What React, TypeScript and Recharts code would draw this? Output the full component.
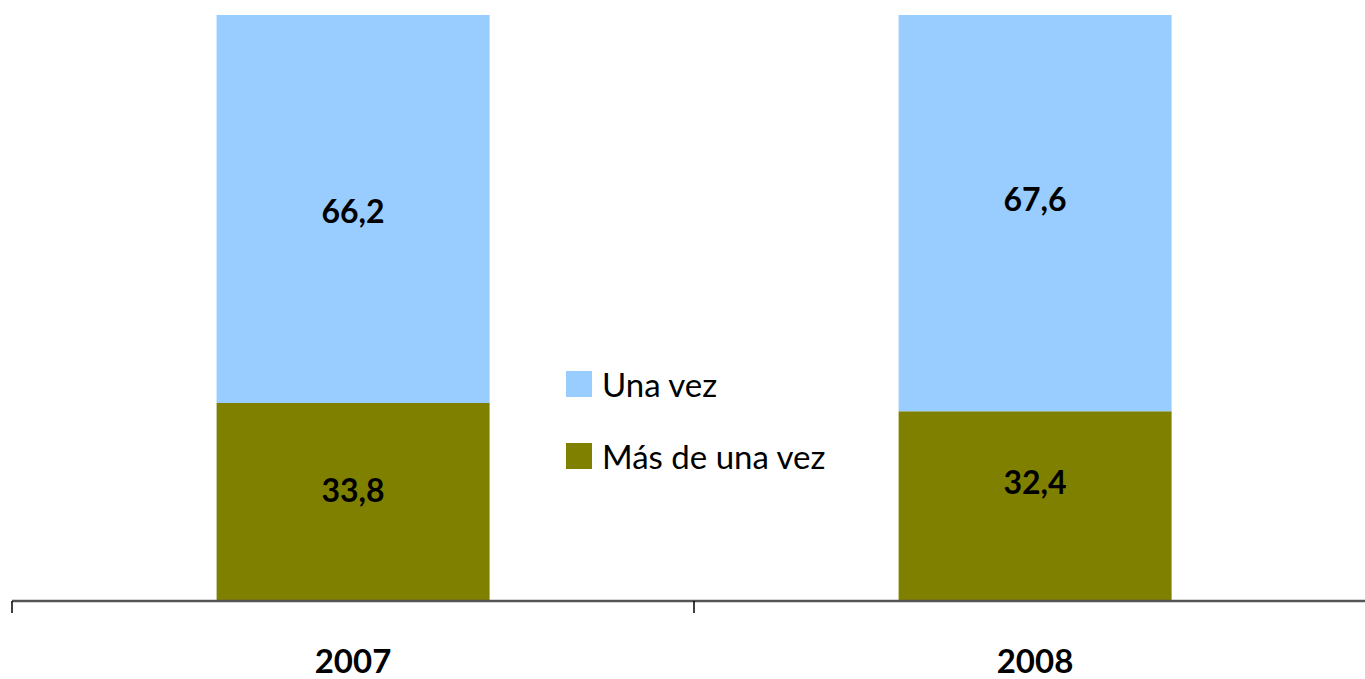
import { BarChart, Bar, XAxis, YAxis, LabelList } from "recharts";

const years = ["2007", "2008"];
const unaVez = [66.2, 67.6];
const masDeUnaVez = [33.8, 32.4];

const SERIES = [
  { key: "unaVez", name: "Una vez", color: "#99CCFF" },
  { key: "masDeUnaVez", name: "Más de una vez", color: "#808000" },
];

const data = years.map((year, i) => ({
  year,
  unaVez: unaVez[i],
  masDeUnaVez: masDeUnaVez[i],
}));

// labels in the original were nudged by hand, not exactly centred
const NUDGE: Record<string, number[]> = {
  unaVez: [2, -15],
  masDeUnaVez: [-12, -25],
};

const VIEW_W = 1365;
const WIDTH = 1376;
const HEIGHT = 679;
const MARGIN = { top: 15, right: 0, left: 12, bottom: 0 };
const BAND = (WIDTH - MARGIN.left - MARGIN.right) / years.length;
const FONT = "Lato, 'Open Sans', sans-serif";

const fmt = (v: number) => v.toFixed(1).replace(".", ",");

function YearTick(props: any) {
  const { x, y, payload } = props;
  const edge = x - BAND / 2;
  return (
    <g>
      <line x1={edge} x2={edge} y1={y} y2={y + 12} stroke="#000" strokeWidth={1.5} />
      <text
        x={x}
        y={y + 64}
        textAnchor="middle"
        dominantBaseline="middle"
        fontSize={33}
        fontWeight={700}
        fill="#000"
        fontFamily={FONT}
      >
        {payload.value}
      </text>
    </g>
  );
}

function valueLabel(seriesKey: string) {
  return (props: any) => {
    const { x, y, width, height, value, index } = props;
    return (
      <text
        x={x + width / 2}
        y={y + height / 2 + (NUDGE[seriesKey][index] || 0)}
        textAnchor="middle"
        dominantBaseline="central"
        fontSize={32}
        fontWeight={700}
        fill="#000"
        fontFamily={FONT}
      >
        {fmt(Number(value))}
      </text>
    );
  };
}

function LegendBox() {
  return (
    <div style={{ position: "absolute", left: 566, top: 371, fontFamily: FONT }}>
      {SERIES.map((s) => (
        <div key={s.key} style={{ display: "flex", alignItems: "center", height: 26, marginBottom: 46 }}>
          <span style={{ width: 26, height: 26, background: s.color, display: "inline-block", marginRight: 10 }} />
          <span style={{ fontSize: 33, color: "#000", lineHeight: "26px", whiteSpace: "nowrap" }}>{s.name}</span>
        </div>
      ))}
    </div>
  );
}

export default function App() {
  return (
    <div
      style={{
        position: "absolute",
        left: 0,
        top: 0,
        width: VIEW_W,
        height: HEIGHT,
        overflow: "hidden",
        background: "#fff",
      }}
    >
      <BarChart width={WIDTH} height={HEIGHT} data={data} margin={MARGIN} barCategoryGap="30%">
        <XAxis
          dataKey="year"
          height={78}
          axisLine={{ stroke: "#555", strokeWidth: 2.5 }}
          tickLine={false}
          tickSize={0}
          tickMargin={0}
          tick={<YearTick />}
          interval={0}
        />
        <YAxis hide domain={[0, 100]} />
        <Bar dataKey="masDeUnaVez" stackId="a" fill="#808000" isAnimationActive={false}>
          <LabelList dataKey="masDeUnaVez" content={valueLabel("masDeUnaVez")} />
        </Bar>
        <Bar dataKey="unaVez" stackId="a" fill="#99CCFF" isAnimationActive={false}>
          <LabelList dataKey="unaVez" content={valueLabel("unaVez")} />
        </Bar>
      </BarChart>
      <LegendBox />
    </div>
  );
}
